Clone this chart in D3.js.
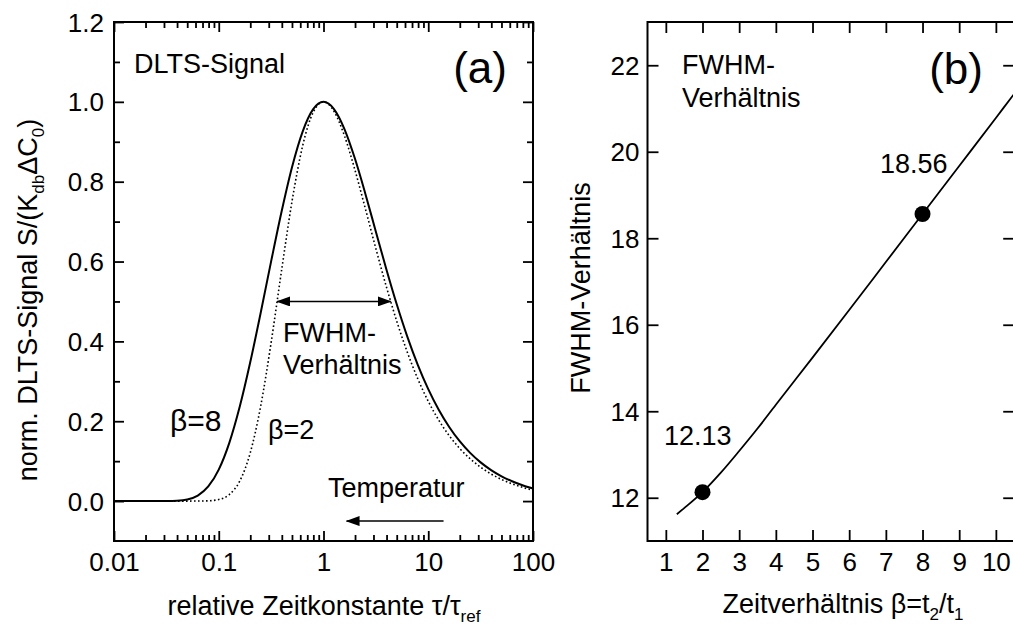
<!DOCTYPE html>
<html>
<head>
<meta charset="utf-8">
<script src="https://cdn.jsdelivr.net/npm/d3@7"></script>
<style>
    body { margin: 0; background: #fff; }
    svg text { font-family: "Liberation Sans", Arial, sans-serif; fill: #000; }
</style>
</head>
<body>
<div class="canvas"></div>
<script>
// panel (a): normalised DLTS signal against tau / tau_ref
const tauRatio = [0.01, 0.01259, 0.01585, 0.01995, 0.02512, 0.03162, 0.03981, 0.05012, 0.0631, 0.07943,
    0.1, 0.1259, 0.1585, 0.1995, 0.2512, 0.3162, 0.3981, 0.5012, 0.631, 0.7943,
    1, 1.259, 1.585, 1.995, 2.512, 3.162, 3.981, 5.012, 6.31, 7.943,
    10, 12.59, 15.85, 19.95, 25.12, 31.62, 39.81, 50.12, 63.1, 79.43, 100];
const signalBeta8 = [0, 0, 0, 0, 0.00001, 0.00013, 0.00088, 0.0041, 0.01388, 0.03655,
    0.07886, 0.14528, 0.23605, 0.34704, 0.47128, 0.60037, 0.72541, 0.83691, 0.92499, 0.98104,
    1, 0.98193, 0.93188, 0.85794, 0.76942, 0.67478, 0.58083, 0.49229, 0.412, 0.34126,
    0.28033, 0.22872, 0.18563, 0.14999, 0.12076, 0.09698, 0.07771, 0.06214, 0.04964, 0.03959, 0.03155];
const signalBeta2 = [0, 0, 0, 0, 0, 0, 0, 0, 0.00007, 0.00065,
    0.0039, 0.01619, 0.04979, 0.12013, 0.23726, 0.3969, 0.57833, 0.75163, 0.88885, 0.97302,
    1, 0.97652, 0.91503, 0.8294, 0.73198, 0.63236, 0.53705, 0.44993, 0.37286, 0.30632,
    0.24993, 0.2028, 0.16384, 0.13191, 0.10591, 0.08484, 0.06785, 0.05418, 0.04323, 0.03445, 0.02744];
const xLabelsA = [0.01, 0.1, 1, 10, 100];
const yLabelsA = [0, 0.2, 0.4, 0.6, 0.8, 1.0, 1.2];
const fwhmArrow = [0.361, 4.378];
const fwhmLevel = 0.5;
const tempArrow = [14, 1.66];
const tempLevel = -0.05;

// panel (b): FWHM ratio against beta = t2/t1
const betaValues = [1.3, 1.5, 2, 2.5, 3, 3.5, 4, 5, 6, 7, 8, 9, 10, 10.5, 11];
const fwhmRatio = [11.62, 11.76, 12.13, 12.58, 13.08, 13.6, 14.15, 15.24, 16.34, 17.45, 18.56, 19.67, 20.78, 21.34, 21.89];
const markedBeta = [2, 8];
const markedFwhm = [12.13, 18.56];
const markedText = ["12.13", "18.56"];
const xLabelsB = [1, 2, 3, 4, 5, 6, 7, 8, 9, 10];
const yLabelsB = [12, 14, 16, 18, 20, 22];

const width = 1013, height = 630;
const fs = 27;      // annotation / title size
const tickFs = 26;  // tick label size

const svg = d3.select(".canvas")
    .append("svg")
    .attr("width", width)
    .attr("height", height);

const defs = svg.append("defs");
defs.append("marker")
    .attr("id", "head")
    .attr("markerUnits", "userSpaceOnUse")
    .attr("viewBox", "0 0 14 10")
    .attr("markerWidth", 14)
    .attr("markerHeight", 10)
    .attr("refX", 13)
    .attr("refY", 5)
    .attr("orient", "auto-start-reverse")
    .append("path")
    .attr("d", "M0,0 L14,5 L0,10 Z")
    .attr("fill", "#000");

const styleAxis = (g) => {
    g.attr("font-family", null).attr("font-size", null);
    g.select(".domain").remove();
    g.selectAll(".tick line").attr("stroke", "#000").attr("stroke-width", 1.8);
    g.selectAll("text").attr("font-size", tickFs);
};

// ---------- panel (a) ----------
const xA = d3.scaleLog().domain([0.01, 100]).range([114, 533]);
const yA = d3.scaleLinear().domain([-0.1, 1.2]).range([541, 22]);
const isDecade = d => Math.abs(Math.log10(d) - Math.round(Math.log10(d))) < 1e-9;
const isMajorA = d => Math.round(d * 10) % 2 === 0;

const bottomA = svg.append("g").attr("transform", `translate(0, ${yA.range()[0]})`)
    .call(d3.axisBottom(xA).tickValues(xA.ticks()).tickSizeInner(-6).tickSizeOuter(0)
        .tickFormat(d => xLabelsA.some(v => Math.abs(v - d) < 1e-9) ? String(d) : ""));
styleAxis(bottomA);
bottomA.selectAll(".tick line").attr("y2", d => isDecade(d) ? -10 : -6);
bottomA.selectAll("text").attr("y", 30).attr("dy", null);

const topA = svg.append("g").attr("transform", `translate(0, ${yA.range()[1]})`)
    .call(d3.axisTop(xA).tickValues(xA.ticks()).tickSizeInner(-6).tickSizeOuter(0).tickFormat(""));
styleAxis(topA);
topA.selectAll(".tick line").attr("y2", d => isDecade(d) ? 10 : 6);

const leftA = svg.append("g").attr("transform", `translate(${xA.range()[0]}, 0)`)
    .call(d3.axisLeft(yA).tickValues(yA.ticks(13).filter(d => d >= 0)).tickSizeInner(-6).tickSizeOuter(0)
        .tickFormat(d => isMajorA(d) ? d3.format(".1f")(d) : ""));
styleAxis(leftA);
leftA.selectAll(".tick line").attr("x2", d => isMajorA(d) ? 10 : 6);
leftA.selectAll("text").attr("x", -10).attr("dy", "0.35em");

const rightA = svg.append("g").attr("transform", `translate(${xA.range()[1]}, 0)`)
    .call(d3.axisRight(yA).tickValues(yA.ticks(13).filter(d => d >= 0)).tickSizeInner(-6).tickSizeOuter(0).tickFormat(""));
styleAxis(rightA);
rightA.selectAll(".tick line").attr("x2", d => isMajorA(d) ? -10 : -6);

svg.append("rect")
    .attr("x", xA.range()[0]).attr("y", yA.range()[1])
    .attr("width", xA.range()[1] - xA.range()[0])
    .attr("height", yA.range()[0] - yA.range()[1])
    .attr("fill", "none").attr("stroke", "#000").attr("stroke-width", 2);

const lineA = (values) => d3.line()
    .x((d, i) => xA(tauRatio[i]))
    .y(d => yA(d))
    .curve(d3.curveMonotoneX)(values);

svg.append("path").attr("d", lineA(signalBeta2))
    .attr("fill", "none").attr("stroke", "#000").attr("stroke-width", 1.6)
    .attr("stroke-dasharray", "1.6,2.4");
svg.append("path").attr("d", lineA(signalBeta8))
    .attr("fill", "none").attr("stroke", "#000").attr("stroke-width", 2);

svg.append("line")
    .attr("x1", xA(fwhmArrow[0])).attr("x2", xA(fwhmArrow[1]))
    .attr("y1", yA(fwhmLevel)).attr("y2", yA(fwhmLevel))
    .attr("stroke", "#000").attr("stroke-width", 1.6)
    .attr("marker-start", "url(#head)").attr("marker-end", "url(#head)");

svg.append("line")
    .attr("x1", xA(tempArrow[0])).attr("x2", xA(tempArrow[1]))
    .attr("y1", yA(tempLevel)).attr("y2", yA(tempLevel))
    .attr("stroke", "#000").attr("stroke-width", 1.6)
    .attr("marker-end", "url(#head)");

const addText = (x, y, str, size = fs, anchor = "start") =>
    svg.append("text").attr("x", x).attr("y", y).attr("font-size", size)
        .attr("text-anchor", anchor).text(str);

addText(134, 73, "DLTS-Signal");
addText(507, 83, "(a)", 44, "end");
addText(283, 342, "FWHM-");
addText(283, 374, "Verhältnis");
addText(170, 431, "β=8", 30);
addText(268, 439, "β=2");
addText(328, 497, "Temperatur");

const titleXA = svg.append("text").attr("x", 324).attr("y", 615)
    .attr("font-size", fs).attr("text-anchor", "middle");
titleXA.append("tspan").text("relative Zeitkonstante τ/τ");
titleXA.append("tspan").attr("font-size", 17).attr("dy", 7).text("ref");

const titleYA = svg.append("text").attr("transform", "translate(37, 300) rotate(-90)")
    .attr("font-size", fs).attr("text-anchor", "middle");
titleYA.append("tspan").text("norm. DLTS-Signal S/(K");
titleYA.append("tspan").attr("font-size", 17).attr("dy", 7).text("db");
titleYA.append("tspan").attr("dy", -7).text("ΔC");
titleYA.append("tspan").attr("font-size", 17).attr("dy", 7).text("0");
titleYA.append("tspan").attr("dy", -7).text(")");

// ---------- panel (b) ----------
const xB = d3.scaleLinear().domain([0.5, 10.5]).range([647.5, 1014.2]);
const yB = d3.scaleLinear().domain([11, 23]).range([541, 22]);

const bottomB = svg.append("g").attr("transform", `translate(0, ${yB.range()[0]})`)
    .call(d3.axisBottom(xB).tickValues(xLabelsB).tickSizeInner(-11).tickSizeOuter(0).tickFormat(d3.format("d")));
styleAxis(bottomB);
bottomB.selectAll("text").attr("y", 30).attr("dy", null);

const topB = svg.append("g").attr("transform", `translate(0, ${yB.range()[1]})`)
    .call(d3.axisTop(xB).tickValues(xLabelsB).tickSizeInner(-11).tickSizeOuter(0).tickFormat(""));
styleAxis(topB);

const leftB = svg.append("g").attr("transform", `translate(${xB.range()[0]}, 0)`)
    .call(d3.axisLeft(yB).tickValues(yLabelsB).tickSizeInner(-11).tickSizeOuter(0).tickFormat(d3.format("d")));
styleAxis(leftB);
leftB.selectAll("text").attr("x", -8).attr("dy", "0.35em");

const rightB = svg.append("g").attr("transform", `translate(${xB.range()[1]}, 0)`)
    .call(d3.axisRight(yB).tickValues(yLabelsB).tickSizeInner(-11).tickSizeOuter(0).tickFormat(""));
styleAxis(rightB);

svg.append("rect")
    .attr("x", xB.range()[0]).attr("y", yB.range()[1])
    .attr("width", xB.range()[1] - xB.range()[0])
    .attr("height", yB.range()[0] - yB.range()[1])
    .attr("fill", "none").attr("stroke", "#000").attr("stroke-width", 2);

defs.append("clipPath").attr("id", "clipB").append("rect")
    .attr("x", xB.range()[0]).attr("y", yB.range()[1])
    .attr("width", xB.range()[1] - xB.range()[0])
    .attr("height", yB.range()[0] - yB.range()[1]);

svg.append("path")
    .attr("clip-path", "url(#clipB)")
    .attr("d", d3.line().x((d, i) => xB(betaValues[i])).y(d => yB(d)).curve(d3.curveMonotoneX)(fwhmRatio))
    .attr("fill", "none").attr("stroke", "#000").attr("stroke-width", 1.8);

svg.selectAll(".marked")
    .data(markedBeta)
    .enter()
    .append("circle")
    .attr("class", "marked")
    .attr("cx", d => xB(d))
    .attr("cy", (d, i) => yB(markedFwhm[i]))
    .attr("r", 8)
    .attr("fill", "#000");

addText(664, 445, markedText[0]);
addText(880, 173, markedText[1]);
addText(682, 73.5, "FWHM-");
addText(682, 106.5, "Verhältnis");
addText(983, 84, "(b)", 44, "end");

const titleXB = svg.append("text").attr("x", 843).attr("y", 613)
    .attr("font-size", fs).attr("text-anchor", "middle");
titleXB.append("tspan").text("Zeitverhältnis β=t");
titleXB.append("tspan").attr("font-size", 17).attr("dy", 7).text("2");
titleXB.append("tspan").attr("dy", -7).text("/t");
titleXB.append("tspan").attr("font-size", 17).attr("dy", 7).text("1");

svg.append("text").attr("transform", "translate(590, 288) rotate(-90)")
    .attr("font-size", fs).attr("text-anchor", "middle")
    .text("FWHM-Verhältnis");
</script>
</body>
</html>
